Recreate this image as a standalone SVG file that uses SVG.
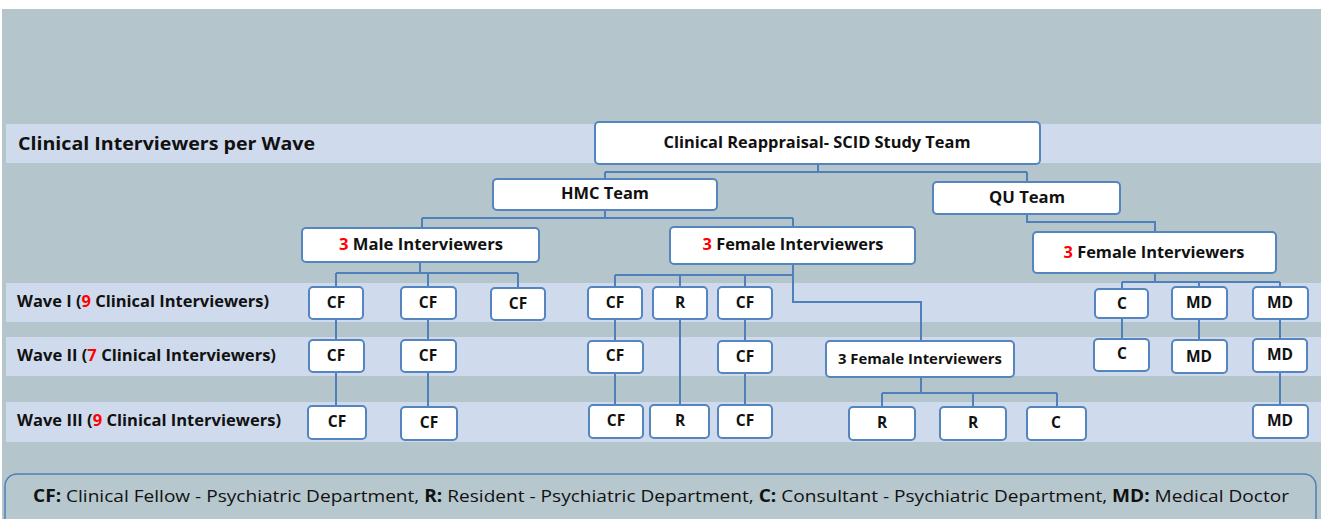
<svg xmlns="http://www.w3.org/2000/svg" width="1321" height="519" viewBox="0 0 1321 519">
<style>
.bg{fill:#b4c5cc}
.band{fill:#cfdbec}
.box{fill:#ffffff;stroke:#5585bf;stroke-width:2}
.conn{fill:none;stroke:#4f80bb;stroke-width:2}
text{font-family:"Open Sans","Liberation Sans",sans-serif;fill:#111111}
.b{font-weight:bold}
.lbl{font-weight:bold;font-size:15.5px;text-anchor:middle}
.red{fill:#ff0000}
.leg{font-size:17px}
</style>
<rect x="0" y="0" width="1321" height="519" fill="#ffffff"/>
<rect class="bg" x="2" y="9" width="1319" height="510"/>
<rect class="band" x="6" y="124" width="1315" height="39"/>
<rect class="band" x="6" y="283" width="1315" height="39"/>
<rect class="band" x="6" y="337" width="1315" height="39"/>
<rect class="band" x="6" y="402" width="1315" height="40"/>
<g id="row-labels">
<text class="b" x="18" y="150" font-size="18" textLength="297" lengthAdjust="spacingAndGlyphs">Clinical Interviewers per Wave</text>
<text class="b" x="17" y="307" font-size="15.5" textLength="252" lengthAdjust="spacingAndGlyphs">Wave I (<tspan class="red">9</tspan> Clinical Interviewers)</text>
<text class="b" x="17" y="361" font-size="15.5" textLength="259" lengthAdjust="spacingAndGlyphs">Wave II (<tspan class="red">7</tspan> Clinical Interviewers)</text>
<text class="b" x="17" y="426" font-size="15.5" textLength="264" lengthAdjust="spacingAndGlyphs">Wave III (<tspan class="red">9</tspan> Clinical Interviewers)</text>
</g>
<g id="connectors">
<path class="conn" d="M818,164 V172 M605,172 H1027 M605,172 V179 M1027,172 V182"/>
<path class="conn" d="M605,210 V218 M422,218 H793 M422,218 V228 M793,218 V227"/>
<path class="conn" d="M1027,214 V222 H1155 V232"/>
<path class="conn" d="M420,262 V273 M336,273 H518 M336,273 V287 M428,273 V287 M518,273 V288"/>
<path class="conn" d="M793,264 V302 H921 V341 M615,275 H793 M615,275 V287 M680,275 V287 M745,275 V287"/>
<path class="conn" d="M1155,273 V282 M1122,282 H1280 M1122,282 V289 M1199,282 V287 M1280,282 V287"/>
<path class="conn" d="M336,319 V340 M336,372 V406 M428,319 V340 M428,372 V407 M615,319 V341 M615,373 V405 M680,319 V405 M745,319 V341 M745,373 V405 M1122,318 V339 M1199,319 V340 M1280,319 V339 M1280,372 V405"/>
<path class="conn" d="M921,377 V393 M882,393 H1057 M882,393 V407 M973,393 V407 M1057,393 V407"/>
</g>
<g id="root"><rect class="box" x="595" y="122" width="445" height="42" rx="4"/><text class="b" x="817" y="148" font-size="16" text-anchor="middle" textLength="307" lengthAdjust="spacingAndGlyphs">Clinical Reappraisal- SCID Study Team</text></g>
<g id="hmc"><rect class="box" x="493" y="179" width="224" height="31" rx="4"/><text class="b" x="605" y="199" font-size="16" text-anchor="middle" textLength="88" lengthAdjust="spacingAndGlyphs">HMC Team</text></g>
<g id="qu"><rect class="box" x="933" y="182" width="187" height="32" rx="4"/><text class="b" x="1027" y="203" font-size="16" text-anchor="middle" textLength="76" lengthAdjust="spacingAndGlyphs">QU Team</text></g>
<g id="hmc-male"><rect class="box" x="302" y="228" width="237" height="34" rx="4"/><text class="b" x="421" y="250" font-size="16" text-anchor="middle" textLength="164" lengthAdjust="spacingAndGlyphs"><tspan class="red">3</tspan> Male Interviewers</text></g>
<g id="hmc-female"><rect class="box" x="670" y="227" width="245" height="37" rx="4"/><text class="b" x="793" y="250" font-size="16" text-anchor="middle" textLength="181" lengthAdjust="spacingAndGlyphs"><tspan class="red">3</tspan> Female Interviewers</text></g>
<g id="qu-female"><rect class="box" x="1033" y="232" width="243" height="41" rx="4"/><text class="b" x="1154" y="258" font-size="16" text-anchor="middle" textLength="181" lengthAdjust="spacingAndGlyphs"><tspan class="red">3</tspan> Female Interviewers</text></g>
<g id="w1-cf1"><rect class="box" x="309" y="287" width="54" height="32" rx="4"/><text class="lbl" x="336" y="308">CF</text></g>
<g id="w1-cf2"><rect class="box" x="401" y="287" width="55" height="32" rx="4"/><text class="lbl" x="428" y="308">CF</text></g>
<g id="w1-cf3"><rect class="box" x="491" y="288" width="54" height="32" rx="4"/><text class="lbl" x="518" y="309">CF</text></g>
<g id="w1-cf4"><rect class="box" x="588" y="287" width="54" height="32" rx="4"/><text class="lbl" x="615" y="308">CF</text></g>
<g id="w1-r1"><rect class="box" x="653" y="287" width="54" height="32" rx="4"/><text class="lbl" x="680" y="308">R</text></g>
<g id="w1-cf5"><rect class="box" x="718" y="287" width="54" height="32" rx="4"/><text class="lbl" x="745" y="308">CF</text></g>
<g id="w1-c1"><rect class="box" x="1095" y="289" width="53" height="29" rx="4"/><text class="lbl" x="1122" y="309">C</text></g>
<g id="w1-md1"><rect class="box" x="1172" y="287" width="55" height="32" rx="4"/><text class="lbl" x="1199" y="308">MD</text></g>
<g id="w1-md2"><rect class="box" x="1253" y="287" width="55" height="32" rx="4"/><text class="lbl" x="1280" y="308">MD</text></g>
<g id="w2-cf1"><rect class="box" x="309" y="340" width="55" height="32" rx="4"/><text class="lbl" x="336" y="361">CF</text></g>
<g id="w2-cf2"><rect class="box" x="401" y="340" width="55" height="32" rx="4"/><text class="lbl" x="428" y="361">CF</text></g>
<g id="w2-cf4"><rect class="box" x="588" y="341" width="55" height="32" rx="4"/><text class="lbl" x="615" y="361">CF</text></g>
<g id="w2-cf5"><rect class="box" x="718" y="341" width="54" height="32" rx="4"/><text class="lbl" x="745" y="362">CF</text></g>
<g id="w2-female"><rect class="box" x="826" y="341" width="188" height="36" rx="4"/><text class="b" x="920" y="364" font-size="13.5" text-anchor="middle" textLength="164" lengthAdjust="spacingAndGlyphs">3 Female Interviewers</text></g>
<g id="w2-c1"><rect class="box" x="1094" y="339" width="55" height="32" rx="4"/><text class="lbl" x="1122" y="359">C</text></g>
<g id="w2-md1"><rect class="box" x="1172" y="340" width="55" height="33" rx="4"/><text class="lbl" x="1199" y="362">MD</text></g>
<g id="w2-md2"><rect class="box" x="1253" y="339" width="54" height="33" rx="4"/><text class="lbl" x="1280" y="360">MD</text></g>
<g id="w3-cf1"><rect class="box" x="308" y="406" width="58" height="33" rx="4"/><text class="lbl" x="337" y="427">CF</text></g>
<g id="w3-cf2"><rect class="box" x="401" y="407" width="56" height="33" rx="4"/><text class="lbl" x="429" y="428">CF</text></g>
<g id="w3-cf4"><rect class="box" x="589" y="405" width="54" height="33" rx="4"/><text class="lbl" x="616" y="426">CF</text></g>
<g id="w3-r1"><rect class="box" x="650" y="405" width="59" height="33" rx="4"/><text class="lbl" x="680" y="426">R</text></g>
<g id="w3-cf5"><rect class="box" x="718" y="405" width="54" height="33" rx="4"/><text class="lbl" x="745" y="426">CF</text></g>
<g id="w3-r2"><rect class="box" x="849" y="407" width="66" height="33" rx="4"/><text class="lbl" x="882" y="428">R</text></g>
<g id="w3-r3"><rect class="box" x="940" y="407" width="66" height="33" rx="4"/><text class="lbl" x="973" y="428">R</text></g>
<g id="w3-c1"><rect class="box" x="1027" y="407" width="59" height="33" rx="4"/><text class="lbl" x="1056" y="428">C</text></g>
<g id="w3-md1"><rect class="box" x="1253" y="405" width="55" height="33" rx="4"/><text class="lbl" x="1280" y="426">MD</text></g>
<g id="legend"><rect x="5" y="474" width="1311" height="70" rx="12" fill="#b6c7ce" stroke="#4f7fb3" stroke-width="1.5"/><text class="leg" x="33" y="502" textLength="1256" lengthAdjust="spacingAndGlyphs"><tspan class="b">CF:</tspan> Clinical Fellow - Psychiatric Department, <tspan class="b">R:</tspan> Resident - Psychiatric Department, <tspan class="b">C:</tspan> Consultant - Psychiatric Department, <tspan class="b">MD:</tspan> Medical Doctor</text></g>
</svg>
